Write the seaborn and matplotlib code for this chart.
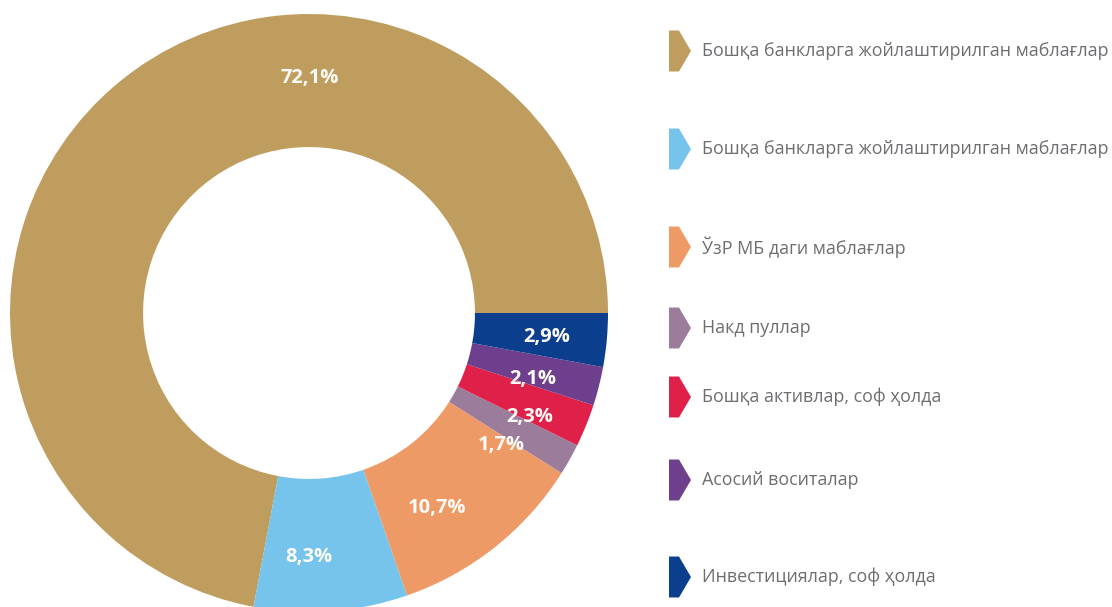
import numpy as np
import pandas as pd
import matplotlib
matplotlib.use("Agg")
import matplotlib.pyplot as plt
from matplotlib.path import Path
import seaborn as sns

# data (percent shares)
categories = [
    "Бошқа банкларга жойлаштирилган маблағлар",
    "Бошқа банкларга жойлаштирилган маблағлар",
    "ЎзР МБ даги маблағлар",
    "Накд пуллар",
    "Бошқа активлар, соф ҳолда",
    "Асосий воситалар",
    "Инвестициялар, соф ҳолда",
]
shares = [72.1, 8.3, 10.7, 1.7, 2.3, 2.1, 2.9]
share_labels = ["72,1%", "8,3%", "10,7%", "1,7%", "2,3%", "2,1%", "2,9%"]
colors = ["#BF9D5F", "#76C3EC", "#EE9A67", "#9B7C9B", "#DF2149", "#6D3F8D", "#0B3E8D"]

# layout
legend_y = [51, 149, 247, 328, 397, 480, 577]
label_nudge = [-39.8, -4.3, -5.1, -5.3, -3.1, -2.3, -0.5]
label_r = [0.786, 0.815, 0.78, 0.78, 0.815, 0.78, 0.80]

sns.set_theme(style="white")
plt.rcParams["font.family"] = ["Open Sans", "DejaVu Sans"]

W, H = 1112, 607
fig = plt.figure(figsize=(W / 100, H / 100), dpi=100)
fig.patch.set_facecolor("white")

# donut
ax = fig.add_axes([10 / W, (H - 612) / H, 598 / W, 598 / H])
wedges, _ = ax.pie(shares, colors=colors, startangle=0, counterclock=True,
                   radius=1.0, wedgeprops=dict(width=0.445, linewidth=0))
ax.set_xlim(-1, 1)
ax.set_ylim(-1, 1)
ax.set_aspect("equal")
ax.axis("off")

for w, lab, nudge, r in zip(wedges, share_labels, label_nudge, label_r):
    mid = np.deg2rad((w.theta1 + w.theta2) / 2 + nudge)
    ax.text(r * np.cos(mid), r * np.sin(mid), lab, ha="center", va="center",
            color="#FDFBF6", fontsize=14.5, fontweight="bold")

# legend
lax = fig.add_axes([0, 0, 1, 1])
arrow = Path([(-11, -20.5), (-1, -20.5), (11, 0), (-1, 20.5), (-11, 20.5), (-11, -20.5)],
             [Path.MOVETO, Path.LINETO, Path.LINETO, Path.LINETO, Path.LINETO, Path.CLOSEPOLY])
keys = [f"s{i}" for i in range(len(categories))]
df = pd.DataFrame({"x": [680] * len(keys), "y": legend_y, "key": keys})
sns.scatterplot(data=df, x="x", y="y", hue="key", hue_order=keys, palette=colors,
                marker=arrow, s=870, linewidth=0, legend=False, ax=lax)
lax.set_xlim(0, W)
lax.set_ylim(H, 0)
lax.axis("off")

for y, name in zip(legend_y, categories):
    lax.text(702, y, name, ha="left", va="center", color="#6D6E71", fontsize=12.85)

fig.savefig("out.png", dpi=100, facecolor="white")
